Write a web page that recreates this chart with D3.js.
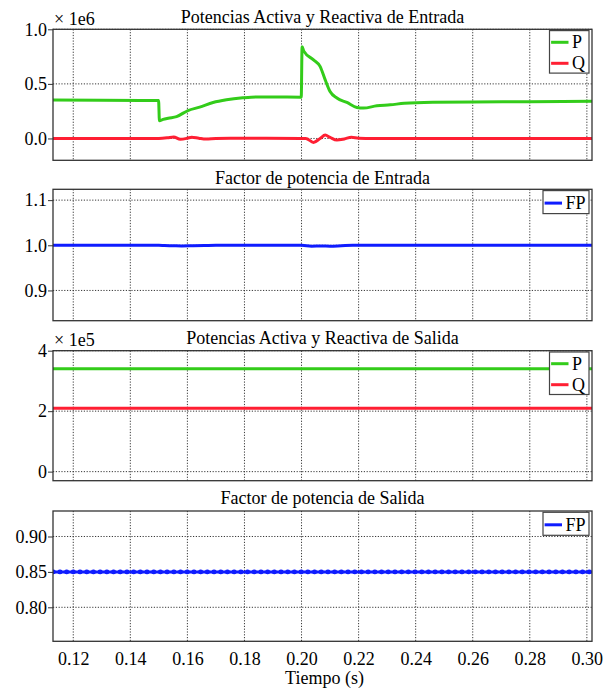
<!DOCTYPE html>
<html>
<head>
<meta charset="utf-8">
<script src="https://cdn.jsdelivr.net/npm/d3@7"></script>
<style>
  html, body { margin: 0; padding: 0; background: #fff; }
  svg { display: block; }
  text { font-family: "Liberation Serif", "Times New Roman", serif; fill: #000; }
</style>
</head>
<body>
<svg id="chart" width="612" height="689"></svg>
<script>
// Time axis
const timeDomain = [0.1129, 0.3018];
const timeTicks = [0.12, 0.14, 0.16, 0.18, 0.20, 0.22, 0.24, 0.26, 0.28, 0.30];

// Input active power P (x 1e6 W)
const pInT = [0.1129, 0.1300, 0.1499, 0.1502, 0.1515, 0.1533, 0.1562, 0.1602, 0.1643, 0.1690, 0.1737, 0.1794, 0.1841, 0.1900, 0.1999,
              0.2002, 0.2008, 0.2042, 0.2065, 0.2083, 0.2100, 0.2124, 0.2159, 0.2194, 0.2217, 0.2264, 0.2311, 0.2360, 0.2460, 0.2600, 0.2800, 0.3018];
const pInV = [0.352, 0.350, 0.348, 0.162, 0.175, 0.186, 0.200, 0.256, 0.287, 0.329, 0.354, 0.372, 0.380, 0.380, 0.378,
              0.840, 0.800, 0.720, 0.660, 0.537, 0.430, 0.370, 0.330, 0.284, 0.278, 0.299, 0.308, 0.322, 0.332, 0.335, 0.337, 0.340];

// Input reactive power Q (x 1e6 VAr)
const qInT = [0.1129, 0.1500, 0.1530, 0.1552, 0.1575, 0.1600, 0.1615, 0.1640, 0.1665, 0.1700, 0.1750, 0.2000, 0.2015,
              0.2042, 0.2065, 0.2083, 0.2100, 0.2124, 0.2150, 0.2175, 0.2200, 0.2250, 0.3018];
const qInV = [0.000, 0.000, 0.006, 0.014, -0.008, 0.002, 0.012, 0.002, -0.006, 0.000, 0.002, 0.000, 0.000,
              -0.036, 0.000, 0.031, 0.010, -0.014, -0.004, 0.011, 0.002, 0.000, 0.000];

// Input power factor
const fpInT = [0.1129, 0.1500, 0.1520, 0.1550, 0.1580, 0.1620, 0.1660, 0.1700, 0.2000, 0.2035, 0.2070, 0.2100, 0.2140, 0.2180, 0.3018];
const fpInV = [1.000, 1.000, 0.9995, 0.999, 0.9985, 0.999, 0.9995, 1.000, 1.000, 0.998, 0.9985, 0.998, 0.999, 1.000, 1.000];

// Output powers (x 1e5)
const outT = [0.1129, 0.2000, 0.3018];
const pOutV = [3.40, 3.40, 3.40];
const qOutV = [2.095, 2.095, 2.095];

// Output power factor
const fpOutV = [0.850, 0.850, 0.850];

// Y tick labels
const ticks1 = [0.0, 0.5, 1.0];
const ticks2 = [0.9, 1.0, 1.1];
const ticks3 = [0, 2, 4];
const ticks4 = [0.80, 0.85, 0.90];

const GREEN = "#33cc1a", RED = "#ff1f33", BLUE = "#0f1cff";

const zip = (t, v) => t.map((d, i) => ({ t: d, v: v[i] }));

const panels = [
  { title: "Potencias Activa y Reactiva de Entrada", top: 29.3, bottom: 160.3, domain: [-0.2, 1.0], ticks: ticks1, fmt: ".1f", mult: "× 1e6", titleDy: 6,
    series: [{ name: "P", color: GREEN, data: zip(pInT, pInV) }, { name: "Q", color: RED, data: zip(qInT, qInV) }] },
  { title: "Factor de potencia de Entrada", top: 189.3, bottom: 320.7, domain: [0.833, 1.124], ticks: ticks2, fmt: ".1f", titleDy: 5.5,
    series: [{ name: "FP", color: BLUE, data: zip(fpInT, fpInV) }] },
  { title: "Potencias Activa y Reactiva de Salida", top: 350.7, bottom: 480.7, domain: [-0.3, 4], ticks: ticks3, fmt: "d", mult: "× 1e5", titleDy: 7.2,
    series: [{ name: "P", color: GREEN, data: zip(outT, pOutV) }, { name: "Q", color: RED, data: zip(outT, qOutV) }] },
  { title: "Factor de potencia de Salida", top: 511, bottom: 641.3, domain: [0.752, 0.936], ticks: ticks4, fmt: ".2f", titleDy: 7,
    series: [{ name: "FP", color: BLUE, data: zip(outT, fpOutV), beaded: true }] }
];

const svg = d3.select("#chart");
const left = 53, right = 592;
const x = d3.scaleLinear().domain(timeDomain).range([left, right]);

panels.forEach((p, pi) => {
  const y = d3.scaleLinear().domain(p.domain).range([p.bottom, p.top]);
  const g = svg.append("g");

  // clip for traces
  const clipId = "clip" + pi;
  svg.append("clipPath").attr("id", clipId).append("rect")
    .attr("x", left).attr("y", p.top).attr("width", right - left).attr("height", p.bottom - p.top);

  // grid
  g.append("g").selectAll("line").data(timeTicks).join("line")
    .attr("x1", d => x(d)).attr("x2", d => x(d)).attr("y1", p.top).attr("y2", p.bottom)
    .attr("stroke", "#222").attr("stroke-width", 0.9).attr("stroke-dasharray", "1.2,1.6");
  g.append("g").selectAll("line").data(p.ticks).join("line")
    .attr("x1", left).attr("x2", right).attr("y1", d => y(d)).attr("y2", d => y(d))
    .attr("stroke", "#222").attr("stroke-width", 0.9).attr("stroke-dasharray", "1.2,1.6");

  // traces
  const line = d3.line().x(d => x(d.t)).y(d => y(d.v)).curve(d3.curveMonotoneX);
  const tr = g.append("g").attr("clip-path", `url(#${clipId})`);
  p.series.forEach(s => {
    tr.append("path").attr("d", line(s.data)).attr("fill", "none")
      .attr("stroke", s.color).attr("stroke-width", 3).attr("stroke-linejoin", "round");
    if (s.beaded) {
      tr.append("path").attr("d", line(s.data)).attr("fill", "none")
        .attr("stroke", s.color).attr("stroke-width", 4.6).attr("stroke-linecap", "round")
        .attr("stroke-dasharray", "0.5,6.2");
    }
  });

  // frame
  g.append("rect").attr("x", left).attr("y", p.top).attr("width", right - left).attr("height", p.bottom - p.top)
    .attr("fill", "none").attr("stroke", "#333").attr("stroke-width", 1.3);

  // y axis
  const ya = g.append("g").attr("transform", `translate(${left},0)`)
    .call(d3.axisLeft(y).tickValues(p.ticks).tickFormat(d3.format(p.fmt)).tickSize(5).tickPadding(1));
  ya.select(".domain").remove();
  ya.selectAll("line").attr("stroke", "#333");
  ya.selectAll("text").attr("font-size", 18).attr("font-family", "Liberation Serif");

  // title
  g.append("text").attr("x", (left + right) / 2).attr("y", p.top - p.titleDy)
    .attr("text-anchor", "middle").attr("font-size", 18).text(p.title);

  // multiplier
  if (p.mult) {
    g.append("text").attr("x", left + 1).attr("y", p.top - 4.5)
      .attr("font-size", 18).text(p.mult);
  }

  // legend
  const n = p.series.length;
  const lw = n === 2 ? 39.5 : 46;
  const lh = n === 2 ? 42.5 : 23;
  const lx = 589 - lw, ly = p.top + 1.3;
  const lg = g.append("g");
  lg.append("rect").attr("x", lx).attr("y", ly).attr("width", lw).attr("height", lh)
    .attr("fill", "#fff").attr("stroke", "#444").attr("stroke-width", 1.2);
  p.series.forEach((s, i) => {
    const cy = n === 2 ? ly + 11.7 + i * 21 : ly + 12.5;
    const x0 = lx + 1.6, x1 = n === 2 ? lx + 19 : lx + 19;
    lg.append("line").attr("x1", x0).attr("x2", x1).attr("y1", cy).attr("y2", cy)
      .attr("stroke", s.color).attr("stroke-width", 3);
    lg.append("text").attr("x", x1 + 3.5).attr("y", cy + 6).attr("font-size", 18).text(s.name);
  });

  // x axis labels on the bottom panel only
  if (pi === panels.length - 1) {
    const xa = g.append("g").attr("transform", `translate(0,${p.bottom})`)
      .call(d3.axisBottom(x).tickValues(timeTicks).tickFormat(d3.format(".2f")).tickSize(0).tickPadding(11));
    xa.select(".domain").remove();
    xa.selectAll("text").attr("font-size", 18).attr("font-family", "Liberation Serif");
    g.append("text").attr("x", (left + right) / 2 + 2).attr("y", 684)
      .attr("text-anchor", "middle").attr("font-size", 18).text("Tiempo (s)");
  }
});
</script>
</body>
</html>
